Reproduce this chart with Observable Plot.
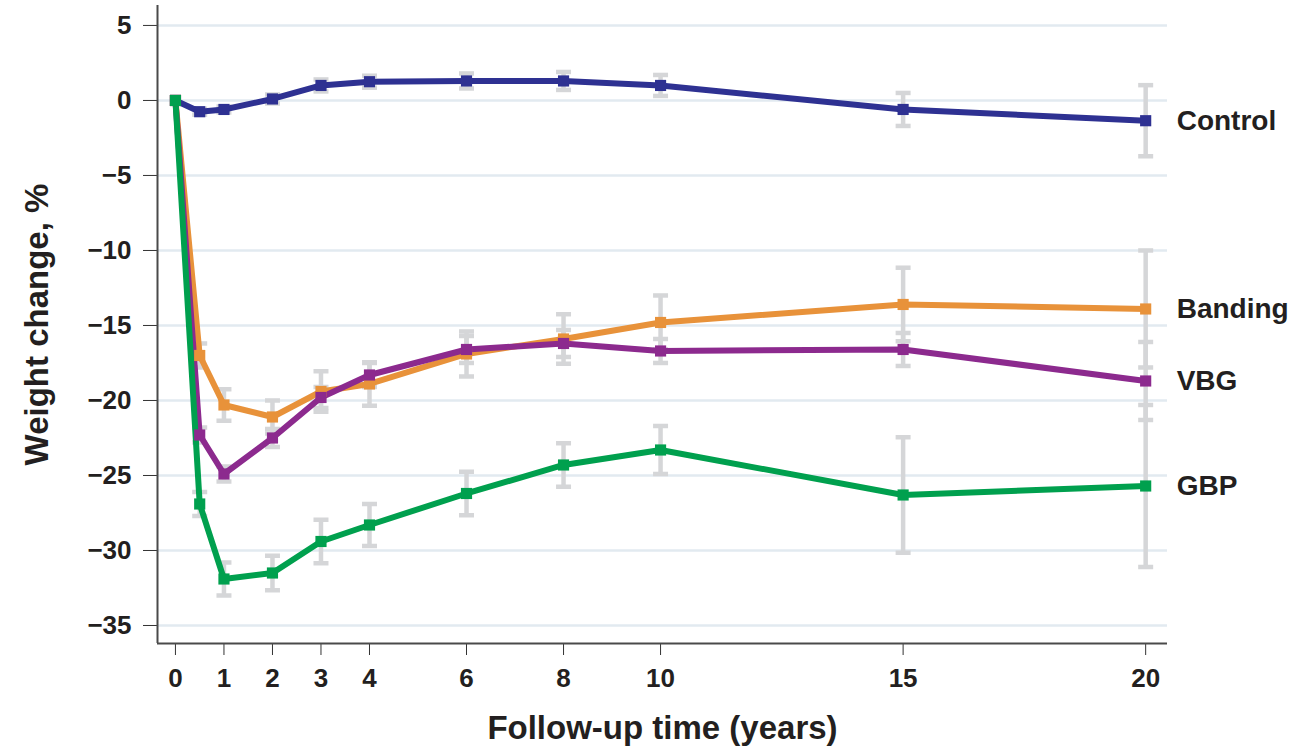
<!DOCTYPE html>
<html>
<head>
<meta charset="utf-8">
<script src="https://cdn.jsdelivr.net/npm/d3@7"></script>
<script src="https://cdn.jsdelivr.net/npm/@observablehq/plot@0.6"></script>
<style>
  html, body { margin: 0; padding: 0; background: #fff; }
  #chart { width: 1301px; height: 748px; }
</style>
</head>
<body>
<div id="chart"></div>
<script>
const years = [0, 0.5, 1, 2, 3, 4, 6, 8, 10, 15, 20];
const groups = ["Control", "Banding", "VBG", "GBP"];
const groupColors = ["#2e3192", "#e8923a", "#8c2a8e", "#00a04e"];

const controlMean = [0, -0.75, -0.6, 0.1, 1.0, 1.25, 1.3, 1.3, 1.0, -0.6, -1.35];
const controlErr  = [0, 0.2, 0.2, 0.3, 0.4, 0.4, 0.5, 0.6, 0.7, 1.1, 2.37];
const bandingMean = [0, -17.0, -20.3, -21.1, -19.4, -18.9, -16.9, -15.9, -14.8, -13.6, -13.9];
const bandingErr  = [0, 0.8, 1.05, 1.1, 1.35, 1.45, 1.5, 1.65, 1.8, 2.45, 3.9];
const vbgMean     = [0, -22.3, -24.9, -22.5, -19.8, -18.3, -16.6, -16.2, -16.7, -16.6, -18.7];
const vbgErr      = [0, 0.5, 0.5, 0.6, 0.7, 0.8, 0.9, 0.9, 0.8, 1.1, 2.6];
const gbpMean     = [0, -26.9, -31.9, -31.5, -29.4, -28.3, -26.2, -24.3, -23.3, -26.3, -25.7];
const gbpErr      = [0, 0.8, 1.1, 1.15, 1.45, 1.4, 1.45, 1.45, 1.6, 3.85, 5.4];

const xTicks = [0, 1, 2, 3, 4, 6, 8, 10, 15, 20];
const yTicks = [5, 0, -5, -10, -15, -20, -25, -30, -35];
const xDomain = [-0.37, 20.45];
const yDomain = [-36.2, 6.33];

const seriesMeans = [controlMean, bandingMean, vbgMean, gbpMean];
const seriesErrs = [controlErr, bandingErr, vbgErr, gbpErr];

const rows = [];
groups.forEach((g, gi) => {
  years.forEach((x, i) => {
    rows.push({group: g, x, y: seriesMeans[gi][i], lo: seriesMeans[gi][i] - seriesErrs[gi][i], hi: seriesMeans[gi][i] + seriesErrs[gi][i], err: seriesErrs[gi][i]});
  });
});
const errRows = rows.filter(d => d.err > 0);
const lastRows = groups.map(g => rows.filter(d => d.group === g).slice(-1)[0]);

const capSymbol = {
  draw(context, size) {
    context.moveTo(-7.5, 0);
    context.lineTo(7.5, 0);
  }
};

const errColor = "#d5d6d8";
const font = "'Liberation Sans', Arial, Helvetica, sans-serif";

const chart = Plot.plot({
  width: 1301,
  height: 748,
  marginLeft: 157,
  marginRight: 134,
  marginTop: 5,
  marginBottom: 105,
  style: {fontFamily: font, fontSize: "26px", fontWeight: "bold", color: "#231f20", background: "#fff"},
  x: {domain: xDomain, ticks: xTicks, tickSize: 12, tickPadding: 13, label: null},
  y: {domain: yDomain, ticks: yTicks, tickSize: 14, tickPadding: 12, label: null},
  color: {domain: groups, range: groupColors},
  marks: [
    Plot.ruleY(yTicks, {stroke: "#e2eaf0", strokeWidth: 2.5}),
    Plot.ruleX(errRows, {x: "x", y1: "lo", y2: "hi", stroke: errColor, strokeWidth: 4.5}),
    Plot.dot(errRows, {x: "x", y: "lo", symbol: capSymbol, stroke: errColor, strokeWidth: 4.5, fill: "none"}),
    Plot.dot(errRows, {x: "x", y: "hi", symbol: capSymbol, stroke: errColor, strokeWidth: 4.5, fill: "none"}),
    Plot.line(rows, {x: "x", y: "y", z: "group", stroke: "group", strokeWidth: 6, strokeLinejoin: "round"}),
    Plot.dot(rows, {x: "x", y: "y", fill: "group", symbol: "square", r: 6.3, stroke: "none"}),
    Plot.ruleX([xDomain[0]], {stroke: "#4a4a4a", strokeWidth: 2}),
    Plot.ruleY([yDomain[0]], {stroke: "#4a4a4a", strokeWidth: 2}),
    Plot.text(lastRows, {x: "x", y: "y", text: "group", dx: 31, textAnchor: "start", fontSize: 28, fontWeight: "bold", fill: "#231f20"}),
    Plot.text(["Follow-up time (years)"], {frameAnchor: "bottom", textAnchor: "middle", dy: 95, fontSize: 33, fontWeight: "bold", fill: "#231f20"}),
    Plot.text(["Weight change, %"], {frameAnchor: "left", textAnchor: "middle", dx: -120, rotate: -90, fontSize: 33, fontWeight: "bold", fill: "#231f20"})
  ]
});
chart.querySelectorAll("g[aria-label$='axis'] path, g[aria-label$='tick'] path").forEach(p => p.setAttribute("stroke", "#333"));
document.getElementById("chart").appendChild(chart);
</script>
</body>
</html>
